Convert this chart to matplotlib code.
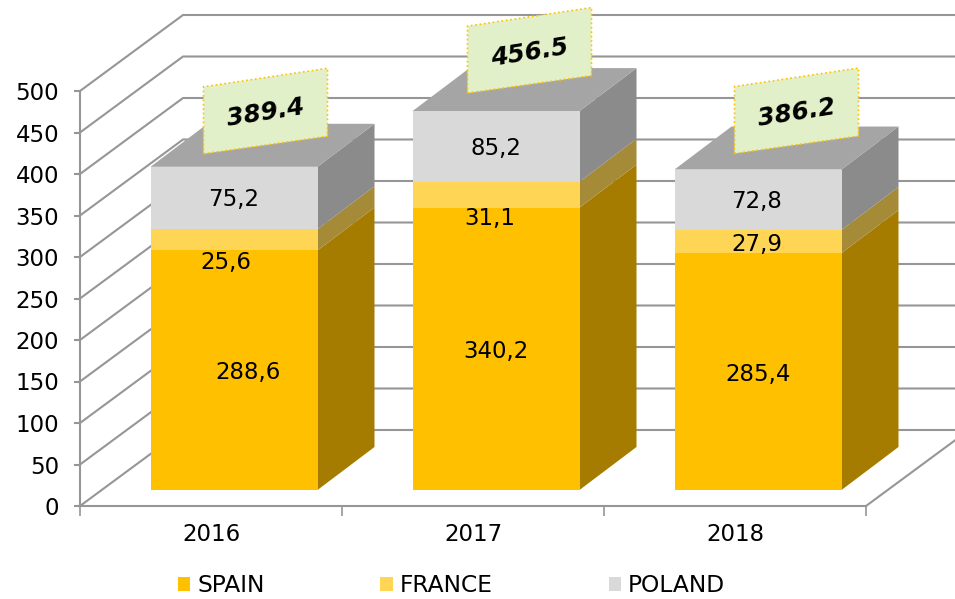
import numpy as np
import matplotlib
matplotlib.use('Agg')
import matplotlib.pyplot as plt
from matplotlib.patches import Patch

years = ['2016', '2017', '2018']
spain = [288.6, 340.2, 285.4]
france = [25.6, 31.1, 27.9]
poland = [75.2, 85.2, 72.8]
totals = [389.4, 456.5, 386.2]
series_names = ['SPAIN', 'FRANCE', 'POLAND']
y_ticks = list(range(0, 501, 50))

W, H = 955, 599
# one category is 262 px, one unit of value is 0.83 px
PX_X = 1 / 262.0
PX_Y = 1 / 0.83

# colours: front, side
front_cols = ['#FFC000', '#FFD555', '#D9D9D9']
side_cols = ['#A67C00', '#A58A38', '#8B8B8B']
top_col = '#A5A5A5'
grid_col = '#969696'

# oblique depth of the wall and of the bars
wall_dx, wall_dy = 103 * PX_X, 76 * PX_Y
shift_dx, shift_dy = 23 * PX_X, 16 * PX_Y
bar_dx, bar_dy = 57 * PX_X, 43 * PX_Y
bar_w = 167 * PX_X

# label nudges in px from the middle of each segment
nudge_x = [[14, 0, 0], [-8, -6, -1], [0, 0, -1]]
nudge_y = [[-2, -3, -3], [-23, -24, -3], [-1, -2, -2]]
# total boxes, px from the bar's left edge / top
box_x = [53, 55, 60]
box_y = [-3, 2, 0]

fig = plt.figure(figsize=(W / 100, H / 100), dpi=100)
ax = fig.add_axes([80 / W, (H - 506) / H, 786 / W, 415 / H])
ax.set_xlim(0, 3)
ax.set_ylim(0, 500)
ax.patch.set_visible(False)
for s in ['top', 'right']:
    ax.spines[s].set_visible(False)
for s in ['left', 'bottom']:
    ax.spines[s].set_color(grid_col)
    ax.spines[s].set_linewidth(1.5)

ax.set_yticks(y_ticks)
ax.set_xticks([0, 1, 2, 3])
ax.set_xticklabels([])
ax.set_xticks([0.5, 1.5, 2.5], minor=True)
ax.set_xticklabels(years, minor=True)
ax.tick_params(axis='y', length=4, width=1.5, color=grid_col, labelsize=16.5, pad=11)
ax.tick_params(axis='x', which='major', length=7, width=1.2, color=grid_col)
ax.tick_params(axis='x', which='minor', length=0, labelsize=16.5, pad=12)

# walls and floor
for v in y_ticks:
    ax.plot([0, wall_dx, 3 + wall_dx], [v, v + wall_dy, v + wall_dy],
            color=grid_col, lw=1.5, clip_on=False, zorder=1)
ax.plot([3, 3 + wall_dx], [0, wall_dy], color=grid_col, lw=1.5, clip_on=False, zorder=1)

x = np.arange(3) + 0.5 + shift_dx
right = x + bar_w / 2
left = x - bar_w / 2
bottom = np.zeros(3)
for vals, fc, sc in zip([spain, france, poland], front_cols, side_cols):
    vals = np.array(vals)
    ax.bar(x, vals, bar_w, bottom=bottom + shift_dy, color=fc, clip_on=False, zorder=3)
    for i in range(3):
        y0 = bottom[i] + shift_dy
        y1 = y0 + vals[i]
        ax.fill([right[i], right[i] + bar_dx, right[i] + bar_dx, right[i]],
                [y0, y0 + bar_dy, y1 + bar_dy, y1], color=sc, lw=0, clip_on=False, zorder=2)
    bottom = bottom + vals

for i in range(3):
    y1 = bottom[i] + shift_dy
    ax.fill([left[i], right[i], right[i] + bar_dx, left[i] + bar_dx],
            [y1, y1, y1 + bar_dy, y1 + bar_dy], color=top_col, lw=0, clip_on=False, zorder=2)

# segment labels
base = np.zeros(3)
for k, vals in enumerate([spain, france, poland]):
    for i, v in enumerate(vals):
        ax.text(x[i] + nudge_x[k][i] * PX_X,
                base[i] + shift_dy + v / 2 + nudge_y[k][i] * PX_Y,
                f'{v:.1f}'.replace('.', ','), ha='center', va='center',
                fontsize=16.5, color='black', zorder=5)
    base = base + np.array(vals)

# slanted total boxes
for i, t in enumerate(totals):
    y1 = bottom[i] + shift_dy + box_y[i] * PX_Y
    bx0 = left[i] + box_x[i] * PX_X
    bx1 = bx0 + 124 * PX_X
    ly, ry = y1 + 49.5 * PX_Y, y1 + 67.5 * PX_Y
    ax.fill([bx0, bx1, bx1, bx0],
            [ly - 33.5 * PX_Y, ry - 34 * PX_Y, ry + 34 * PX_Y, ly + 33.5 * PX_Y],
            facecolor='#E2F0C9', edgecolor='#FFC000', lw=1.2, ls=':',
            clip_on=False, zorder=6)
    ax.text((bx0 + bx1) / 2, (ly + ry) / 2 - 2 * PX_Y, f'{t:.1f}', ha='center', va='center',
            rotation=9, rotation_mode='anchor', fontsize=17.8,
            fontweight='bold', fontstyle='italic', color='black', zorder=7)

handles = [Patch(color=c, lw=0) for c in front_cols]
fig.legend(handles, series_names, ncol=3, loc='center left',
           bbox_to_anchor=(178 / W, (H - 586) / H), frameon=False, fontsize=16.8,
           handlelength=0.52, handleheight=0.52, handletextpad=0.3,
           columnspacing=4.97, borderpad=0, borderaxespad=0)

fig.savefig('out.png', dpi=100)
